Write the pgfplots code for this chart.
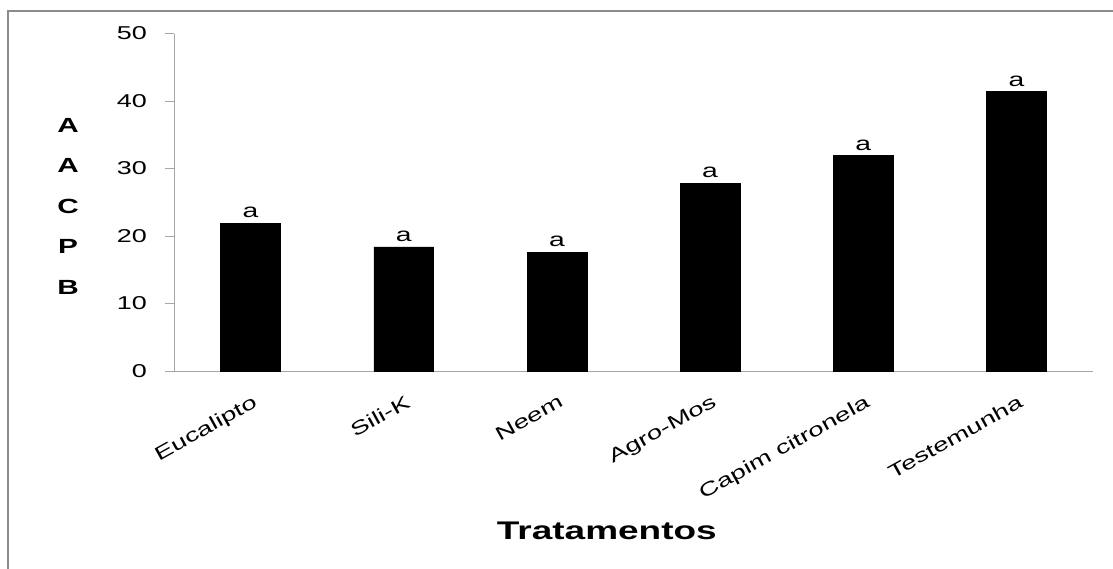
\documentclass[border=0pt]{standalone}
\usepackage{fontspec}
\setmainfont{Liberation Sans}
\usepackage{graphicx}
\usepackage{pgfplots}
\pgfplotsset{compat=1.18}
\definecolor{axgray}{HTML}{A6A6A6}
\definecolor{framegray}{HTML}{8C8C8C}
\newcommand{\wide}[1]{\scalebox{1.45}[1]{\textrm{#1}}}
\begin{document}
\begin{tikzpicture}[x=1pt,y=1pt]
\useasboundingbox (0,0) rectangle (1113,568);
% moldura cinza (so esquerda e topo aparecem)
\draw[framegray, line width=2pt] (8,-5) -- (8,557) -- (1120,557);
\begin{axis}[
    at={(174pt,197pt)}, anchor=south west,
    scale only axis, width=919pt, height=337.5pt,
    xmin=-0.5, xmax=5.5, ymin=0, ymax=50,
    ytick={0,10,20,30,40,50},
    yticklabel={\fontsize{18.6}{22}\selectfont\wide{\pgfmathprintnumber[assume math mode=true]{\tick}}},
    xtick=data,
    xticklabels={\wide{Eucalipto},\wide{Sili-K},\wide{Neem},\wide{Agro-Mos},\wide{Capim citronela},\wide{Testemunha}},
    axis x line*=bottom, axis y line*=left,
    axis line style={draw=axgray, line width=1pt},
    tick align=outside, major tick length=9pt,
    ytick style={draw=axgray, line width=1pt},
    xtick style={draw=none},
    yticklabel style={font=\fontsize{18.6}{22}\selectfont, anchor=east, inner sep=0pt, xshift=-18pt},
    xticklabel style={font=\fontsize{19}{22}\selectfont, anchor=north east, inner sep=0pt, xshift=1pt, yshift=-14pt, rotate=29},
    every axis y label/.style={at={(axis description cs:-0.1153,0.489)}, anchor=center, align=center, font=\bfseries\fontsize{20.5}{40.5}\selectfont, xscale=1.45},
    ylabel={A\\A\\C\\P\\B},
    every axis x label/.style={at={(axis description cs:0.471,-0.498)}, anchor=base, font=\bfseries\fontsize{25.5}{30}\selectfont, xscale=1.45},
    xlabel={Tratamentos},
    nodes near coords={a},
    every node near coord/.append style={font=\fontsize{19.5}{24}\selectfont, inner sep=0pt, anchor=south, yshift=5pt, xscale=1.45},
    clip=false,
]
\addplot[ybar, bar width=0.39, fill=black, draw=black, line width=0.5pt] coordinates {
    (0, 21.9)
    (1, 18.4)
    (2, 17.6)
    (3, 27.8)
    (4, 31.9)
    (5, 41.4)
};
\end{axis}
\end{tikzpicture}
\end{document}
